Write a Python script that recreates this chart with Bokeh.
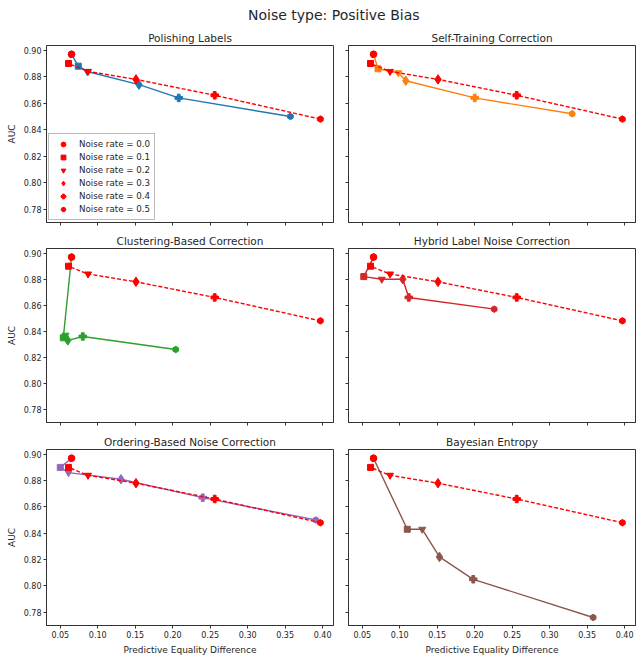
import math
from bokeh.plotting import figure
from bokeh.layouts import column, row
from bokeh.models import (Range1d, FixedTicker, NumeralTickFormatter,
                          CustomJSTickFormatter, Legend, LegendItem)
from bokeh.core.properties import value
from bokeh.embed import file_html
from bokeh.resources import INLINE

# ---------------- data ----------------
noise_rates = [0.0, 0.1, 0.2, 0.3, 0.4, 0.5]

baseline_x = [0.065, 0.061, 0.087, 0.151, 0.256, 0.397]
baseline_y = [0.897, 0.890, 0.884, 0.878, 0.866, 0.848]

polishing_x = [0.065, 0.074, 0.086, 0.155, 0.208, 0.357]
polishing_y = [0.897, 0.888, 0.884, 0.874, 0.864, 0.850]

self_training_x = [0.065, 0.071, 0.098, 0.108, 0.200, 0.330]
self_training_y = [0.897, 0.886, 0.883, 0.877, 0.864, 0.852]

clustering_x = [0.065, 0.054, 0.057, 0.060, 0.080, 0.204]
clustering_y = [0.897, 0.835, 0.837, 0.833, 0.836, 0.826]

hybrid_x = [0.065, 0.052, 0.076, 0.104, 0.112, 0.226]
hybrid_y = [0.897, 0.882, 0.880, 0.880, 0.866, 0.857]

ordering_x = [0.065, 0.050, 0.061, 0.131, 0.240, 0.391]
ordering_y = [0.897, 0.890, 0.886, 0.881, 0.867, 0.850]

bayesian_x = [0.065, 0.110, 0.130, 0.153, 0.198, 0.358]
bayesian_y = [0.897, 0.843, 0.843, 0.822, 0.805, 0.776]

method_names = ["Polishing Labels", "Self-Training Correction",
                "Clustering-Based Correction", "Hybrid Label Noise Correction",
                "Ordering-Based Noise Correction", "Bayesian Entropy"]

x_ticks = [0.05, 0.10, 0.15, 0.20, 0.25, 0.30, 0.35, 0.40]
y_ticks = [0.78, 0.80, 0.82, 0.84, 0.86, 0.88, 0.90]

suptitle = "Noise type: Positive Bias"
x_label = "Predictive Equality Difference"
y_label = "AUC"

# ---------------- styles ----------------
FONT = "DejaVu Sans"
COLORS = ["#1f77b4", "#ff7f0e", "#2ca02c", "#d62728", "#9467bd", "#8c564b"]
MARKERS = [("circle", 6.5, 0.0), ("square", 6, 0.0), ("inverted_triangle", 7, 0.0),
           ("diamond", 9.5, 0.0), ("plus", 7.5, 0.0), ("hex", 6.5, math.pi / 6)]
FW = 287
FHS = [177, 174, 176]
TOPS = [19, 20, 21]
TXT = "#262626"
XR = Range1d(0.0316, 0.4145)
YR = Range1d(0.7699, 0.9036)

series = [(polishing_x, polishing_y), (self_training_x, self_training_y),
          (clustering_x, clustering_y), (hybrid_x, hybrid_y),
          (ordering_x, ordering_y), (bayesian_x, bayesian_y)]


def make_panel(idx):
    r_i, c_i = divmod(idx, 2)
    left_col = c_i == 0
    bottom_row = r_i == 2
    p = figure(frame_width=FW, frame_height=FHS[r_i], x_range=XR, y_range=YR,
               output_backend="svg", toolbar_location=None,
               title=method_names[idx],
               min_border_left=46 if left_col else 13,
               min_border_right=2 if left_col else 1,
               min_border_top=TOPS[r_i],
               min_border_bottom=30 if bottom_row else 6)
    p.title.align = "center"
    p.title.text_font = FONT
    p.title.text_font_size = "10.5px"
    p.title.text_font_style = "normal"
    p.title.text_color = TXT
    p.title.standoff = 3
    p.grid.visible = False
    p.outline_line_color = "#333333"
    p.outline_line_width = 1
    p.background_fill_color = "white"
    for ax in (p.xaxis[0], p.yaxis[0]):
        ax.major_tick_out = 3
        ax.major_tick_in = 0
        ax.minor_tick_line_color = None
        ax.major_tick_line_color = "#333333"
        ax.axis_line_color = "#333333"
        ax.major_label_text_font = FONT
        ax.major_label_text_font_size = "8px"
        ax.major_label_text_color = TXT
        ax.major_label_standoff = 2
        ax.axis_label_text_font = FONT
        ax.axis_label_text_font_size = "9px"
        ax.axis_label_text_font_style = "normal"
        ax.axis_label_text_color = TXT
        ax.axis_label_standoff = 4
    p.xaxis.ticker = FixedTicker(ticks=x_ticks, minor_ticks=[])
    p.yaxis.ticker = FixedTicker(ticks=y_ticks, minor_ticks=[])
    if bottom_row:
        p.xaxis.formatter = NumeralTickFormatter(format="0.00")
        p.xaxis.axis_label = x_label
    else:
        p.xaxis.formatter = CustomJSTickFormatter(code="return ''")
    if left_col:
        p.yaxis.formatter = NumeralTickFormatter(format="0.00")
        p.yaxis.axis_label = y_label
    else:
        p.yaxis.formatter = CustomJSTickFormatter(code="return ''")

    xs, ys = series[idx]
    col = COLORS[idx]
    p.line(xs, ys, color=col, line_width=1.4)
    for i in range(len(noise_rates)):
        m, s, a = MARKERS[i]
        p.scatter([xs[i]], [ys[i]], marker=m, size=s, angle=a,
                  fill_color=col, line_color=col)
    p.line(baseline_x, baseline_y, color="red", line_width=1.4, line_dash="4 2")
    ref_renderers = []
    for i in range(len(noise_rates)):
        m, s, a = MARKERS[i]
        r = p.scatter([baseline_x[i]], [baseline_y[i]], marker=m, size=s, angle=a,
                      fill_color="red", line_color="red")
        ref_renderers.append(r)
    if idx == 0:
        items = [LegendItem(label="Noise rate = %.1f" % nr, renderers=[r])
                 for nr, r in zip(noise_rates, ref_renderers)]
        leg = Legend(items=items, location="bottom_left")
        leg.margin = 2
        leg.padding = 4
        leg.spacing = 1
        leg.glyph_width = 20
        leg.glyph_height = 12
        leg.label_height = 12
        leg.label_standoff = 6
        leg.label_text_font = FONT
        leg.label_text_font_size = "8.7px"
        leg.label_text_color = TXT
        leg.border_line_color = "#bbbbbb"
        leg.border_line_alpha = 1.0
        leg.background_fill_alpha = 0.8
        p.add_layout(leg)
    return p


panels = [make_panel(i) for i in range(6)]

t = figure(width=636, height=26, toolbar_location=None, output_backend="svg",
           min_border=0, x_range=(0, 1), y_range=(0, 1))
t.axis.visible = False
t.grid.visible = False
t.outline_line_color = None
t.text(x=[0.524], y=[0.46], text=[suptitle], text_align="center",
       text_baseline="middle", text_font=value(FONT), text_font_size="14px",
       text_color=TXT)

layout = column(t, row(panels[0], panels[1]), row(panels[2], panels[3]),
                row(panels[4], panels[5]))

with open("out.html", "w") as f:
    f.write(file_html(layout, INLINE))
